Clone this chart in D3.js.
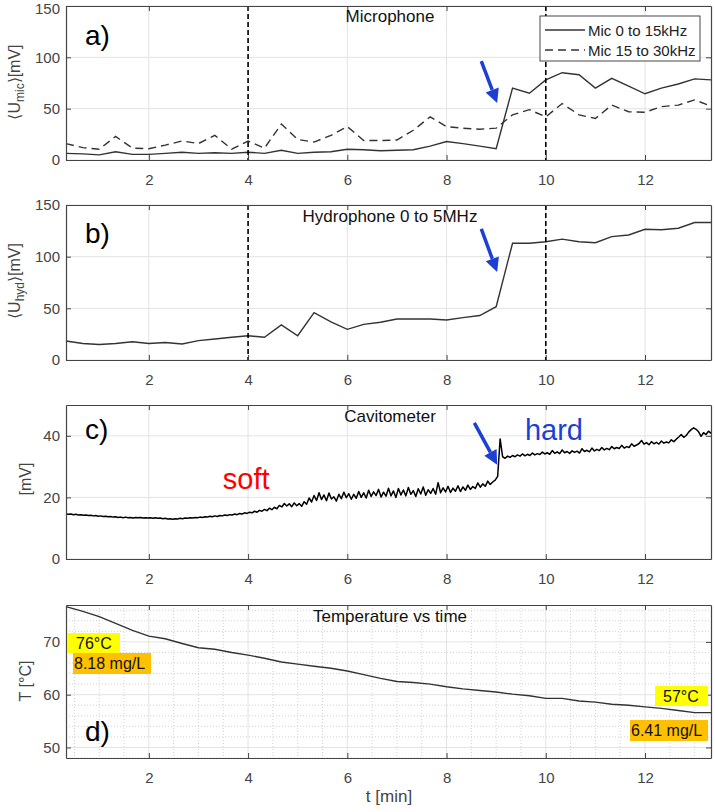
<!DOCTYPE html>
<html>
<head>
<meta charset="utf-8">
<script src="https://cdn.jsdelivr.net/npm/d3@7"></script>
<style>
  body { margin: 0; background: #fff; }
  svg { font-family: "Liberation Sans", Arial, sans-serif; }
</style>
</head>
<body>
<svg id="chart" width="715" height="812"></svg>
<script>
// sample times [min] for the 20 s averaged signals
const times = [0.33,0.67,1.00,1.33,1.67,2.00,2.33,2.67,3.00,3.33,3.67,4.00,4.33,4.67,5.00,5.33,5.67,6.00,6.33,6.67,
  7.00,7.33,7.67,8.00,8.33,8.67,9.00,9.33,9.67,10.00,10.33,10.67,11.00,11.33,11.67,12.00,12.33,12.67,13.00,13.33];

// a) microphone [mV]
const micLow = [6.5,6,5,8,5.5,5.5,6.5,7.5,6.5,7,6.5,7.5,6.5,9.5,6.5,7.5,8,10.5,10,9,
  9.5,10,13.5,18,16,13.5,11,70,65,78,85,83,70,79.5,72,64.5,70,74,79,78];
const micHigh = [16,12,10.5,23,11.5,11,14.5,18.5,16,24,10.5,18.5,11.5,35,20,17.5,24,32.5,19,19,
  19.5,29,42,32.5,31,30,31,44,49,42,55,44,40.5,53.5,47,46.5,52,53.5,58.5,52.5];

// b) hydrophone [mV]
const hydro = [18.4,16,15,16,17.7,16,17,15.5,18.7,20.3,22,23.5,22,34,23.5,45.8,37,29.7,34.5,36.5,
  39.7,39.7,39.7,38.7,41,43,51.6,113,113,114.5,117,114.5,113.5,119.4,121,126.5,126,127.5,133,133];

// c) cavitometer [t min, mV]
const cavitometer = [
  [0.33,14.6],[0.38,14.5],[0.43,14.6],[0.48,14.4],[0.53,14.5],[0.58,14.3],[0.63,14.4],[0.68,14.2],[0.73,14.3],[0.78,14.1],
  [0.83,14.2],[0.88,14.0],[0.93,14.1],[0.98,13.9],[1.03,14.0],[1.08,13.8],[1.13,13.9],[1.18,13.7],[1.23,13.8],[1.28,13.6],
  [1.33,13.7],[1.38,13.5],[1.43,13.6],[1.48,13.4],[1.53,13.6],[1.58,13.4],[1.63,13.5],[1.68,13.3],[1.73,13.5],[1.78,13.4],
  [1.83,13.5],[1.88,13.3],[1.93,13.4],[1.98,13.3],[2.03,13.4],[2.08,13.2],[2.13,13.4],[2.18,13.2],[2.23,13.3],[2.28,13.1],
  [2.33,13.2],[2.38,13.0],[2.43,13.1],[2.48,12.9],[2.53,13.1],[2.58,13.0],[2.63,13.2],[2.68,13.1],[2.73,13.3],[2.78,13.2],
  [2.83,13.4],[2.88,13.3],[2.93,13.5],[2.98,13.4],[3.03,13.6],[3.08,13.5],[3.13,13.7],[3.18,13.6],[3.23,13.9],[3.28,13.7],
  [3.33,14.0],[3.38,13.8],[3.43,14.1],[3.48,14.0],[3.53,14.3],[3.58,14.1],[3.63,14.4],[3.68,14.3],[3.73,14.6],[3.78,14.4],
  [3.83,14.8],[3.88,14.6],[3.93,15.0],[3.98,14.8],[4.03,15.2],[4.08,15.0],[4.13,15.5],[4.18,15.2],[4.23,15.8],[4.28,15.5],
  [4.33,16.1],[4.38,15.7],[4.43,16.5],[4.48,16.0],[4.53,16.8],[4.58,16.3],[4.63,17.4],[4.68,16.9],[4.73,18.0],[4.78,17.2],
  [4.83,17.9],[4.88,17.0],[4.93,18.2],[4.98,17.3],[5.03,18.0],[5.08,17.1],[5.13,18.6],[5.18,17.8],[5.23,19.8],[5.28,18.5],
  [5.33,20.6],[5.38,19.0],[5.43,21.5],[5.48,19.3],[5.53,20.8],[5.58,18.9],[5.63,21.4],[5.68,19.5],[5.73,20.2],[5.78,18.8],
  [5.83,21.0],[5.88,19.6],[5.93,21.7],[5.98,19.9],[6.03,21.2],[6.08,19.4],[6.13,21.0],[6.18,19.7],[6.23,21.9],[6.28,20.0],
  [6.33,21.5],[6.38,19.8],[6.43,22.3],[6.48,20.3],[6.53,21.8],[6.58,20.6],[6.63,22.6],[6.68,20.1],[6.73,21.7],[6.78,20.4],
  [6.83,23.0],[6.88,20.5],[6.93,22.1],[6.98,20.0],[7.03,22.9],[7.08,20.8],[7.13,22.4],[7.18,20.5],[7.23,23.2],[7.28,21.0],
  [7.33,22.2],[7.38,20.3],[7.43,22.8],[7.48,21.1],[7.53,23.4],[7.58,20.7],[7.63,22.5],[7.68,21.3],[7.73,22.9],[7.78,21.0],
  [7.83,24.8],[7.88,21.5],[7.93,23.1],[7.98,21.8],[8.03,23.6],[8.08,21.6],[8.13,23.0],[8.18,22.0],[8.23,23.8],[8.28,21.9],
  [8.33,23.4],[8.38,22.3],[8.43,24.0],[8.48,22.6],[8.53,23.5],[8.58,22.9],[8.63,24.7],[8.68,23.3],[8.73,24.4],[8.78,23.6],
  [8.83,25.3],[8.88,24.2],[8.93,25.0],[8.98,25.6],[9.03,26.8],[9.08,39.0],[9.13,33.2],[9.18,32.7],[9.23,33.4],[9.28,33.0],
  [9.33,33.6],[9.38,33.2],[9.43,33.8],[9.48,33.4],[9.53,34.1],[9.58,33.5],[9.63,34.0],[9.68,33.6],[9.73,34.4],[9.78,33.8],
  [9.83,34.2],[9.88,33.9],[9.93,34.7],[9.98,34.1],[10.03,34.5],[10.08,34.0],[10.13,35.2],[10.18,34.3],[10.23,34.8],[10.28,34.2],
  [10.33,35.4],[10.38,34.5],[10.43,34.9],[10.48,34.3],[10.53,35.1],[10.58,34.6],[10.63,35.0],[10.68,34.4],[10.73,35.8],[10.78,34.9],
  [10.83,35.3],[10.88,34.8],[10.93,36.0],[10.98,35.1],[11.03,35.6],[11.08,35.2],[11.13,36.2],[11.18,35.4],[11.23,35.9],[11.28,35.5],
  [11.33,36.5],[11.38,35.8],[11.43,36.2],[11.48,35.9],[11.53,36.9],[11.58,36.0],[11.63,36.5],[11.68,36.2],[11.73,37.4],[11.78,36.6],
  [11.83,37.0],[11.88,37.5],[11.93,38.5],[11.98,37.3],[12.03,37.8],[12.08,37.1],[12.13,38.1],[12.18,37.4],[12.23,37.9],[12.28,37.3],
  [12.33,38.3],[12.38,37.6],[12.43,38.0],[12.48,37.7],[12.53,38.7],[12.58,38.1],[12.63,38.9],[12.68,39.6],[12.73,40.4],[12.78,39.5],
  [12.83,40.1],[12.88,41.2],[12.93,42.0],[12.98,42.6],[13.03,42.1],[13.08,41.3],[13.13,39.8],[13.18,41.0],[13.23,40.4],[13.28,41.5],
  [13.33,40.8]
];

// d) temperature [°C]
const tempC = [76.7,75.8,74.8,73.5,72.2,71.1,70.6,69.7,68.9,68.6,68.0,67.5,66.9,66.2,65.8,65.4,65.0,64.5,63.8,63.1,
  62.5,62.3,62.0,61.5,61.1,60.8,60.5,60.1,59.8,59.3,59.3,58.8,58.6,58.2,58.0,57.7,57.4,57.0,56.6,56.6];

const xTicks = [2, 4, 6, 8, 10, 12];
const markerTimes = [4, 10];

const svg = d3.select("#chart");
const left = 66, right = 711;
const x = d3.scaleLinear().domain([0.33, 13.33]).range([left, right]);
const axisColor = "#444";
const gridColor = "#e3e3e3";

const panels = [
  { top: 6,   bottom: 160, yDomain: [0, 150], yTicks: [0, 50, 100, 150], title: "Microphone",
    titleY: 22, letter: "a)", letterY: 45 },
  { top: 205, bottom: 360, yDomain: [0, 150], yTicks: [0, 50, 100, 150], title: "Hydrophone 0 to 5MHz",
    titleY: 222, letter: "b)", letterY: 243 },
  { top: 405, bottom: 559, yDomain: [0, 50], yTicks: [0, 20, 40], title: "Cavitometer",
    titleY: 422, letter: "c)", letterY: 439 },
  { top: 605, bottom: 758, yDomain: [48, 77], yTicks: [50, 60, 70], title: "Temperature vs time",
    titleY: 622, letter: "d)", letterY: 741, minor: true }
];

panels.forEach(p => {
  p.y = d3.scaleLinear().domain(p.yDomain).range([p.bottom, p.top]);
  const g = svg.append("g");
  p.g = g;

  // minor grid (dotted) for the temperature plot
  if (p.minor) {
    const mx = d3.range(0.5, 13.3, 0.5).filter(v => v % 2 !== 0);
    const my = d3.range(48, 77, 2).filter(v => v % 10 !== 0);
    g.selectAll(".mgx").data(mx).join("line")
      .attr("x1", d => x(d)).attr("x2", d => x(d)).attr("y1", p.top).attr("y2", p.bottom)
      .attr("stroke", "#d2d2d2").attr("stroke-dasharray", "1,2");
    g.selectAll(".mgy").data(my).join("line")
      .attr("x1", left).attr("x2", right).attr("y1", d => p.y(d)).attr("y2", d => p.y(d))
      .attr("stroke", "#d2d2d2").attr("stroke-dasharray", "1,2");
  }

  // major grid
  g.selectAll(".gx").data(xTicks).join("line")
    .attr("x1", d => x(d)).attr("x2", d => x(d)).attr("y1", p.top).attr("y2", p.bottom)
    .attr("stroke", gridColor);
  g.selectAll(".gy").data(p.yTicks).join("line")
    .attr("x1", left).attr("x2", right).attr("y1", d => p.y(d)).attr("y2", d => p.y(d))
    .attr("stroke", gridColor);
});

function styleAxis(sel) {
  sel.selectAll("path").attr("stroke", axisColor).attr("stroke-width", 1.2);
  sel.selectAll("line").attr("stroke", axisColor);
  sel.selectAll("text").attr("fill", "#444").attr("font-size", 15)
    .attr("font-family", "'Liberation Sans', Arial, sans-serif");
}

function drawAxes(p) {
  const g = p.g;
  g.append("g").attr("transform", `translate(0,${p.bottom})`)
    .call(d3.axisBottom(x).tickValues(xTicks).tickSize(-5).tickPadding(14).tickSizeOuter(0))
    .call(styleAxis);
  g.append("g").attr("transform", `translate(0,${p.top})`)
    .call(d3.axisTop(x).tickValues(xTicks).tickSize(-5).tickFormat("").tickSizeOuter(0))
    .call(styleAxis);
  const ya = g.append("g").attr("transform", `translate(${left},0)`)
    .call(d3.axisLeft(p.y).tickValues(p.yTicks).tickSize(-5).tickPadding(6).tickSizeOuter(0))
    .call(styleAxis);
  // keep the top label of the first panel inside the page
  if (p.top < 10) ya.selectAll("text").filter(d => d === p.yDomain[1]).attr("dy", "0.5em");
  g.append("g").attr("transform", `translate(${right},0)`)
    .call(d3.axisRight(p.y).tickValues(p.yTicks).tickSize(-5).tickFormat("").tickSizeOuter(0))
    .call(styleAxis);

  g.append("text").attr("x", 390).attr("y", p.titleY).attr("text-anchor", "middle")
    .attr("font-size", 17).attr("fill", "#111").text(p.title);
  g.append("text").attr("x", 85).attr("y", p.letterY)
    .attr("font-size", 28).attr("fill", "#000").text(p.letter);
}

function markers(p) {
  p.g.selectAll(".mk").data(markerTimes).join("line")
    .attr("x1", d => x(d)).attr("x2", d => x(d)).attr("y1", p.top).attr("y2", p.bottom)
    .attr("stroke", "#000").attr("stroke-width", 1.6).attr("stroke-dasharray", "5,3");
}

function arrow(p, t0, v0, t1, v1) {
  const x0 = x(t0), y0 = p.y(v0), x1 = x(t1), y1 = p.y(v1);
  const ang = Math.atan2(y1 - y0, x1 - x0);
  const L = 14, W = 7;
  const bx = x1 - L * Math.cos(ang), by = y1 - L * Math.sin(ang);
  const col = "#1c3fd4";
  p.g.append("line").attr("x1", x0).attr("y1", y0).attr("x2", bx).attr("y2", by)
    .attr("stroke", col).attr("stroke-width", 3.5);
  p.g.append("path")
    .attr("d", `M${x1},${y1}L${bx + W * Math.sin(ang)},${by - W * Math.cos(ang)}L${bx - W * Math.sin(ang)},${by + W * Math.cos(ang)}Z`)
    .attr("fill", col);
}

const lineOf = (p, xs, ys) => d3.line().x((d, i) => x(xs[i])).y(d => p.y(d))(ys);

// a) microphone
const pa = panels[0];
pa.g.append("path").attr("d", lineOf(pa, times, micHigh)).attr("fill", "none")
  .attr("stroke", "#333").attr("stroke-width", 1.4).attr("stroke-dasharray", "8,5");
pa.g.append("path").attr("d", lineOf(pa, times, micLow)).attr("fill", "none")
  .attr("stroke", "#333").attr("stroke-width", 1.4);
markers(pa);
drawAxes(pa);
arrow(pa, 8.70, 96.4, 9.02, 55.5);

// legend
const lg = pa.g.append("g");
lg.append("rect").attr("x", 540).attr("y", 16).attr("width", 160).attr("height", 45)
  .attr("fill", "#fff").attr("stroke", "#333").attr("stroke-width", 0.9);
[["Mic 0 to 15kHz", null, 30], ["Mic 15 to 30kHz", "8,5", 50]].forEach(([label, dash, yy]) => {
  lg.append("line").attr("x1", 545).attr("x2", 585).attr("y1", yy).attr("y2", yy)
    .attr("stroke", "#333").attr("stroke-width", 1.3).attr("stroke-dasharray", dash);
  lg.append("text").attr("x", 588).attr("y", yy + 5.5).attr("font-size", 15).attr("fill", "#222").text(label);
});

// b) hydrophone
const pb = panels[1];
pb.g.append("path").attr("d", lineOf(pb, times, hydro)).attr("fill", "none")
  .attr("stroke", "#333").attr("stroke-width", 1.4);
markers(pb);
drawAxes(pb);
arrow(pb, 8.70, 126.8, 9.02, 85.2);

// c) cavitometer
const pc = panels[2];
pc.g.append("path")
  .attr("d", d3.line().x(d => x(d[0])).y(d => pc.y(d[1]))(cavitometer))
  .attr("fill", "none").attr("stroke", "#000").attr("stroke-width", 1.5).attr("stroke-linejoin", "round");
drawAxes(pc);
arrow(pc, 8.56, 44.2, 9.02, 30.6);
pc.g.append("text").attr("x", x(3.49)).attr("y", pc.y(22.6)).attr("font-size", 29)
  .attr("fill", "#ff0000").text("soft");
pc.g.append("text").attr("x", x(9.58)).attr("y", pc.y(38.7)).attr("font-size", 29)
  .attr("fill", "#1c3fd4").text("hard");

// d) temperature
const pd = panels[3];
pd.g.append("path").attr("d", lineOf(pd, times, tempC)).attr("fill", "none")
  .attr("stroke", "#333").attr("stroke-width", 1.4);
drawAxes(pd);

const tags = [
  { x: 67,  y: 633, w: 53, h: 20, fill: "#ffff00", tx: 76,  ty: 649, text: "76°C" },
  { x: 73,  y: 653, w: 78, h: 21, fill: "#ffc000", tx: 74,  ty: 669, text: "8.18 mg/L" },
  { x: 655, y: 686, w: 53, h: 20, fill: "#ffff00", tx: 663, ty: 702, text: "57°C" },
  { x: 630, y: 720, w: 78, h: 21, fill: "#ffc000", tx: 631, ty: 736, text: "6.41 mg/L" }
];
tags.forEach(t => {
  pd.g.append("rect").attr("x", t.x).attr("y", t.y).attr("width", t.w).attr("height", t.h).attr("fill", t.fill);
  pd.g.append("text").attr("x", t.tx).attr("y", t.ty).attr("font-size", 16).attr("fill", "#111").text(t.text);
});

// y axis labels
function yLabel(xPos, yPos, parts) {
  const t = svg.append("text").attr("transform", `translate(${xPos},${yPos}) rotate(-90)`)
    .attr("text-anchor", "middle").attr("font-size", 16).attr("fill", "#444");
  parts.forEach(([s, sub]) => {
    const ts = t.append("tspan").text(s);
    if (sub === 1) ts.attr("dy", 4).attr("font-size", 12);
    if (sub === -1) ts.attr("dy", -4);
  });
}
yLabel(20, 82, [["⟨U", 0], ["mic", 1], ["⟩[mV]", -1]]);
yLabel(20, 281, [["⟨U", 0], ["hyd", 1], ["⟩[mV]", -1]]);
yLabel(31, 479, [["[mV]", 0]]);
yLabel(31, 681, [["T [°C]", 0]]);

// x axis label
svg.append("text").attr("x", 389).attr("y", 802).attr("text-anchor", "middle")
  .attr("font-size", 17).attr("fill", "#444").text("t [min]");
</script>
</body>
</html>
